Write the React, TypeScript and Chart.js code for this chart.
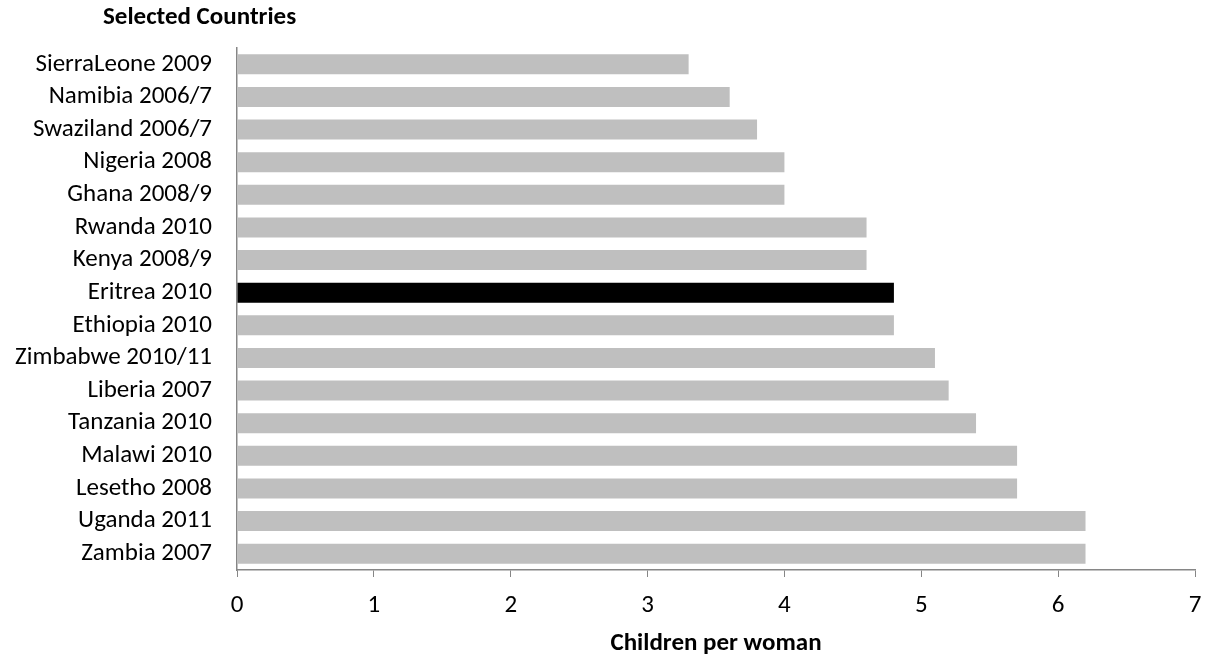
import React, { useEffect, useRef } from "react";
import { Chart, registerables } from "chart.js";

Chart.register(...registerables);

const countries = [
  "SierraLeone 2009",
  "Namibia 2006/7",
  "Swaziland 2006/7",
  "Nigeria 2008",
  "Ghana 2008/9",
  "Rwanda 2010",
  "Kenya 2008/9",
  "Eritrea 2010",
  "Ethiopia 2010",
  "Zimbabwe 2010/11",
  "Liberia 2007",
  "Tanzania 2010",
  "Malawi 2010",
  "Lesetho 2008",
  "Uganda 2011",
  "Zambia 2007",
];
const childrenPerWoman = [3.3, 3.6, 3.8, 4.0, 4.0, 4.6, 4.6, 4.8, 4.8, 5.1, 5.2, 5.4, 5.7, 5.7, 6.2, 6.2];
const highlighted = "Eritrea 2010";
const xTicks = [0, 1, 2, 3, 4, 5, 6, 7];
const chartTitle = "Selected Countries";
const xAxisTitle = "Children per woman";

const FONT = "Carlito, Calibri, Lato, 'Open Sans', sans-serif";
const FS = 25;

export default function App() {
  const ref = useRef<HTMLCanvasElement | null>(null);
  useEffect(() => {
    document.body.style.margin = "0";
    const canvas = ref.current;
    if (!canvas) return;
    const titlePlugin = {
      id: "cornerTitle",
      afterDraw(chart: any) {
        const ctx = chart.ctx;
        ctx.save();
        ctx.font = `bold ${FS}px ${FONT}`;
        ctx.fillStyle = "#000";
        ctx.textAlign = "left";
        ctx.textBaseline = "middle";
        ctx.fillText(chartTitle, 103, 18);
        ctx.restore();
      },
    };
    const chart = new Chart(canvas, {
      type: "bar",
      data: {
        labels: countries,
        datasets: [
          {
            data: childrenPerWoman,
            backgroundColor: countries.map((c) => (c === highlighted ? "#000000" : "#bfbfbf")),
            barPercentage: 0.61,
            categoryPercentage: 1,
          },
        ],
      },
      options: {
        indexAxis: "y",
        animation: false,
        responsive: false,
        maintainAspectRatio: false,
        layout: { padding: { top: 48, right: 12, left: 0, bottom: 0 } },
        plugins: { legend: { display: false }, tooltip: { enabled: false }, title: { display: false } },
        scales: {
          x: {
            min: 0,
            max: 7,
            afterBuildTicks: (scale: any) => {
              scale.ticks = xTicks.map((v) => ({ value: v }));
            },
            afterFit: (scale: any) => {
              scale.height = 90;
              scale.paddingRight = 0;
              scale.paddingLeft = 0;
            },
            grid: { drawOnChartArea: false, drawTicks: true, tickLength: 7, color: "#868686", lineWidth: 1 },
            border: { color: "#868686", width: 1.5 },
            ticks: { color: "#000", font: { family: FONT, size: FS }, padding: 14 },
            title: {
              display: true,
              text: xAxisTitle,
              color: "#000",
              font: { family: FONT, size: FS, weight: "bold" },
              padding: { top: 1, bottom: 1 },
            },
          },
          y: {
            afterFit: (scale: any) => {
              scale.width = 237;
            },
            grid: { display: false, drawTicks: false },
            border: { color: "#868686", width: 1.5 },
            ticks: { color: "#000", font: { family: FONT, size: FS }, padding: 25, autoSkip: false },
          },
        },
      },
      plugins: [titlePlugin],
    });
    return () => chart.destroy();
  }, []);
  return (
    <div style={{ width: 1207, height: 660 }}>
      <canvas ref={ref} width={1207} height={660} style={{ display: "block" }} />
    </div>
  );
}
